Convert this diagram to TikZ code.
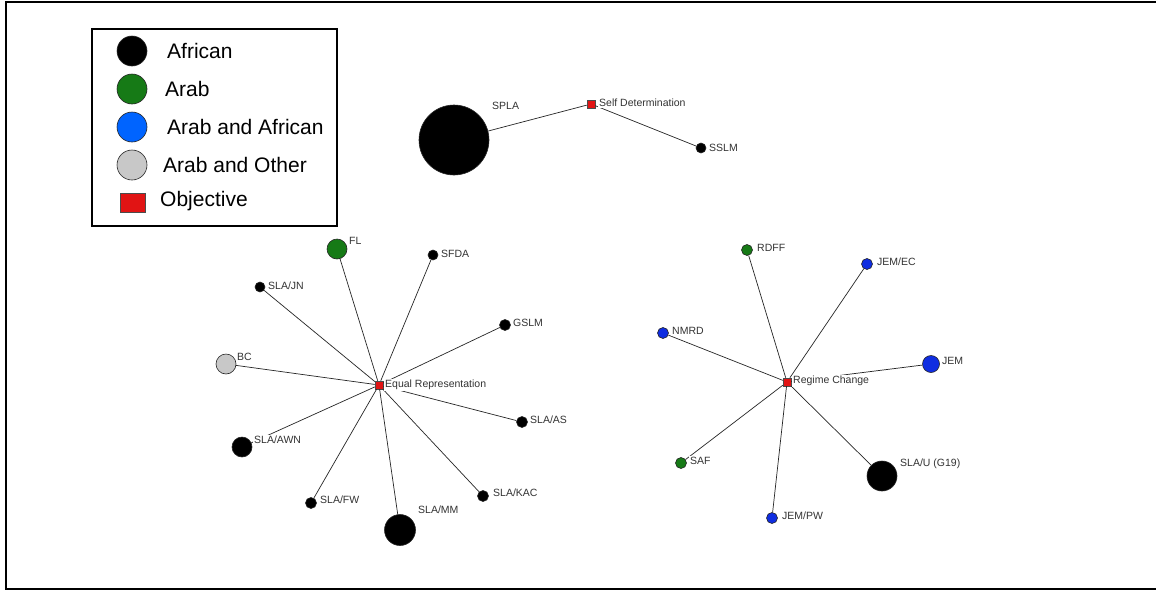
\documentclass[tikz,border=0pt]{standalone}
\usepackage{fontspec}
\setmainfont{Liberation Sans}
\definecolor{argreen}{RGB}{22,122,22}
\definecolor{arblue}{RGB}{15,45,225}
\definecolor{legblue}{RGB}{0,100,255}
\definecolor{argray}{RGB}{200,200,200}
\definecolor{objred}{RGB}{225,20,20}
\begin{document}
\begin{tikzpicture}[x=1pt,y=-1pt,
  actor/.style={circle,draw=black!85,line width=0.6pt,inner sep=0pt,minimum size=#1},
  afr/.style={actor=#1,fill=black},
  arb/.style={actor=#1,fill=argreen},
  aaf/.style={actor=#1,fill=arblue},
  aot/.style={actor=#1,fill=argray},
  obj/.style={rectangle,draw=black!70,fill=objred,line width=0.5pt,inner sep=0pt,minimum size=8pt},
  lbl/.style={anchor=west,font=\fontsize{10.5}{12}\selectfont,text=black!80,inner sep=1pt,fill=white},
  leg/.style={anchor=west,font=\fontsize{21}{24}\selectfont,inner sep=0pt},
  edge/.style={draw=black!85,line width=0.7pt}]
\useasboundingbox (0,0) rectangle (1156,592);
\fill[white] (0,0) rectangle (1156,592);
% frame
\draw[line width=2pt] (1156,2) -- (6,2) -- (6,589) -- (1156,589);

% legend
\node[draw,line width=1.3pt,minimum width=245pt,minimum height=197pt,inner sep=0pt] (legend) at (214.5,127.5) {};
\node[afr={30pt}] (l1) at (132,51) {};
\node[leg] (t1) at (167,51) {African};
\node[actor={30pt},fill=argreen] (l2) at (132,89) {};
\node[leg] (t2) at (165,89) {Arab};
\node[actor={30pt},fill=legblue] (l3) at (132,127) {};
\node[leg] (t3) at (167,127) {Arab and African};
\node[aot={30pt}] (l4) at (132,165) {};
\node[leg] (t4) at (163,165) {Arab and Other};
\node[obj,minimum width=25pt,minimum height=19pt,line width=0.8pt] (l5) at (133,203) {};
\node[leg] (t5) at (160,201) {Objective};

% Self Determination
\node[obj] (sd) at (591,104) {};
\node[afr={70pt}] (spla) at (454,140) {};
\node[afr={10pt}] (sslm) at (701,148) {};
\draw[edge] (sd) -- (spla);
\draw[edge] (sd) -- (sslm);
\node[lbl] (sdl) at (598,103) {Self Determination};
\node[lbl] (splal) at (491,106) {SPLA};
\node[lbl] (sslml) at (708,148) {SSLM};

% Equal Representation
\node[obj] (er) at (379,385) {};
\node[arb={20pt}] (fl) at (337,249) {};
\node[afr={10pt}] (sfda) at (433,255) {};
\node[afr={10pt}] (sljn) at (260,287) {};
\node[afr={11pt}] (gslm) at (505,325) {};
\node[aot={20pt}] (bc) at (226,364) {};
\node[afr={11pt}] (slas) at (522,422) {};
\node[afr={20pt}] (slawn) at (242,447) {};
\node[afr={11pt}] (slfw) at (311,503) {};
\node[afr={31pt}] (slmm) at (400,530) {};
\node[afr={11pt}] (slkac) at (483,496) {};
\foreach \n in {fl,sfda,sljn,gslm,bc,slas,slawn,slfw,slmm,slkac}
  \draw[edge] (er) -- (\n);
\node[lbl] (erl) at (384,385) {Equal Representation};
\node[lbl] (fll) at (348,241) {FL};
\node[lbl] (sfdal) at (440,254) {SFDA};
\node[lbl] (sljnl) at (267,286) {SLA/JN};
\node[lbl] (gslml) at (512,323) {GSLM};
\node[lbl] (bcl) at (236,357) {BC};
\node[lbl] (slasl) at (529,420) {SLA/AS};
\node[lbl] (slawnl) at (253,440) {SLA/AWN};
\node[lbl] (slfwl) at (319,500) {SLA/FW};
\node[lbl] (slmml) at (417,510) {SLA/MM};
\node[lbl] (slkacl) at (492,493) {SLA/KAC};

% Regime Change
\node[obj] (rc) at (787,382) {};
\node[arb={11pt}] (rdff) at (747,250) {};
\node[aaf={11pt}] (jemec) at (867,264) {};
\node[aaf={11pt}] (nmrd) at (663,333) {};
\node[aaf={17pt}] (jem) at (931,364) {};
\node[arb={11pt}] (saf) at (681,463) {};
\node[afr={30pt}] (slau) at (882,476) {};
\node[aaf={11pt}] (jempw) at (772,518) {};
\foreach \n in {rdff,jemec,nmrd,jem,saf,slau,jempw}
  \draw[edge] (rc) -- (\n);
\node[lbl] (rcl) at (792,381) {Regime Change};
\node[lbl] (rdffl) at (756,248) {RDFF};
\node[lbl] (jemecl) at (876,262) {JEM/EC};
\node[lbl] (nmrdl) at (671,331) {NMRD};
\node[lbl] (jeml) at (941,361) {JEM};
\node[lbl] (safl) at (689,461) {SAF};
\node[lbl] (slaul) at (899,464) {SLA/U (G19)};
\node[lbl] (jempwl) at (781,516) {JEM/PW};
\end{tikzpicture}
\end{document}
